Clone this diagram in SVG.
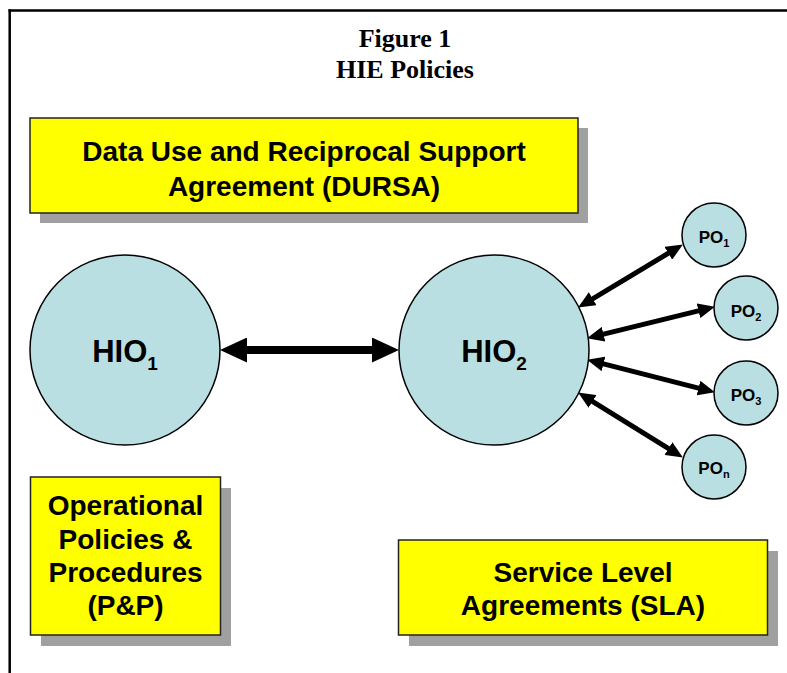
<svg xmlns="http://www.w3.org/2000/svg" width="787" height="673" viewBox="0 0 787 673">
  <style>
    .title { font-family: "Liberation Serif", "Times New Roman", serif; font-weight: bold; font-size: 26px; fill: #000; text-anchor: middle; }
    .box { fill: #FFFF00; stroke: #222; stroke-width: 1.5; }
    .shadow { fill: #A0A0A0; }
    .lbl { font-family: "Liberation Sans", Arial, sans-serif; font-weight: bold; font-size: 28px; fill: #000; text-anchor: middle; }
    .circle { fill: #BADFE2; stroke: #000; stroke-width: 1.5; }
    .hio { font-family: "Liberation Sans", Arial, sans-serif; font-weight: bold; font-size: 31px; fill: #000; text-anchor: middle; }
    .po { font-family: "Liberation Sans", Arial, sans-serif; font-weight: bold; font-size: 17px; fill: #000; text-anchor: middle; }
    .big { stroke: #000; stroke-width: 8; fill: none; }
    .small { stroke: #000; stroke-width: 5; fill: none; }
  </style>
  <defs>
    <marker id="bigHead" markerUnits="userSpaceOnUse" markerWidth="27" markerHeight="25" refX="4" refY="12.5" orient="auto-start-reverse" viewBox="0 0 27 25">
      <path d="M0,0 L27,12.5 L0,25 z" fill="#000"/>
    </marker>
    <marker id="smallHead" markerUnits="userSpaceOnUse" markerWidth="17" markerHeight="15" refX="3" refY="7.5" orient="auto-start-reverse" viewBox="0 0 17 15">
      <path d="M0,0 L17,7.5 L0,15 z" fill="#000"/>
    </marker>
  </defs>

  <rect x="0" y="0" width="787" height="673" fill="#fff"/>

  <g id="frame">
    <line x1="9.7" y1="9.3" x2="9.7" y2="673" stroke="#000" stroke-width="2.5"/>
    <line x1="8.5" y1="10.5" x2="787" y2="10.5" stroke="#000" stroke-width="2.5"/>
  </g>

  <g id="title">
    <text class="title" x="405" y="47">Figure 1</text>
    <text class="title" x="405" y="78">HIE Policies</text>
  </g>

  <g id="dursa">
    <rect class="shadow" x="40" y="128" width="548" height="95"/>
    <rect class="box" x="30" y="118" width="548" height="95"/>
    <text class="lbl" x="304" y="161">Data Use and Reciprocal Support</text>
    <text class="lbl" x="304" y="196">Agreement (DURSA)</text>
  </g>

  <g id="pp">
    <rect class="shadow" x="41" y="488" width="190" height="158"/>
    <rect class="box" x="30.5" y="477" width="190" height="158"/>
    <text class="lbl" x="125.5" y="515">Operational</text>
    <text class="lbl" x="125.5" y="549">Policies &amp;</text>
    <text class="lbl" x="125.5" y="582">Procedures</text>
    <text class="lbl" x="125.5" y="615">(P&amp;P)</text>
  </g>

  <g id="sla">
    <rect class="shadow" x="409" y="551" width="369" height="95"/>
    <rect class="box" x="398.5" y="540" width="369" height="95"/>
    <text class="lbl" x="583" y="582">Service Level</text>
    <text class="lbl" x="583" y="615">Agreements (SLA)</text>
  </g>

  <g id="connectors">
    <line class="big" x1="243" y1="350" x2="376" y2="350" marker-start="url(#bigHead)" marker-end="url(#bigHead)"/>
    <line class="small" x1="590.1" y1="300.3" x2="670.9" y2="251.7" marker-start="url(#smallHead)" marker-end="url(#smallHead)"/>
    <line class="small" x1="600.6" y1="334.9" x2="701.4" y2="310.1" marker-start="url(#smallHead)" marker-end="url(#smallHead)"/>
    <line class="small" x1="600.6" y1="363.2" x2="701.4" y2="388.8" marker-start="url(#smallHead)" marker-end="url(#smallHead)"/>
    <line class="small" x1="590.0" y1="399.9" x2="671.0" y2="450.1" marker-start="url(#smallHead)" marker-end="url(#smallHead)"/>
  </g>

  <g id="hio1">
    <circle class="circle" cx="125" cy="350" r="95"/>
    <text class="hio" x="125" y="362">HIO<tspan font-size="19" dy="8">1</tspan></text>
  </g>

  <g id="hio2">
    <circle class="circle" cx="494" cy="350" r="95"/>
    <text class="hio" x="494" y="362">HIO<tspan font-size="19" dy="8">2</tspan></text>
  </g>

  <g id="po1">
    <circle class="circle" cx="714" cy="235" r="32"/>
    <text class="po" x="714" y="242.5">PO<tspan font-size="11" dy="4">1</tspan></text>
  </g>
  <g id="po2">
    <circle class="circle" cx="746" cy="308" r="32"/>
    <text class="po" x="746" y="316.5">PO<tspan font-size="11" dy="4">2</tspan></text>
  </g>
  <g id="po3">
    <circle class="circle" cx="746" cy="393" r="32"/>
    <text class="po" x="746" y="400.5">PO<tspan font-size="11" dy="4">3</tspan></text>
  </g>
  <g id="pon">
    <circle class="circle" cx="714" cy="467" r="32"/>
    <text class="po" x="714" y="474">PO<tspan font-size="11" dy="4">n</tspan></text>
  </g>
</svg>
